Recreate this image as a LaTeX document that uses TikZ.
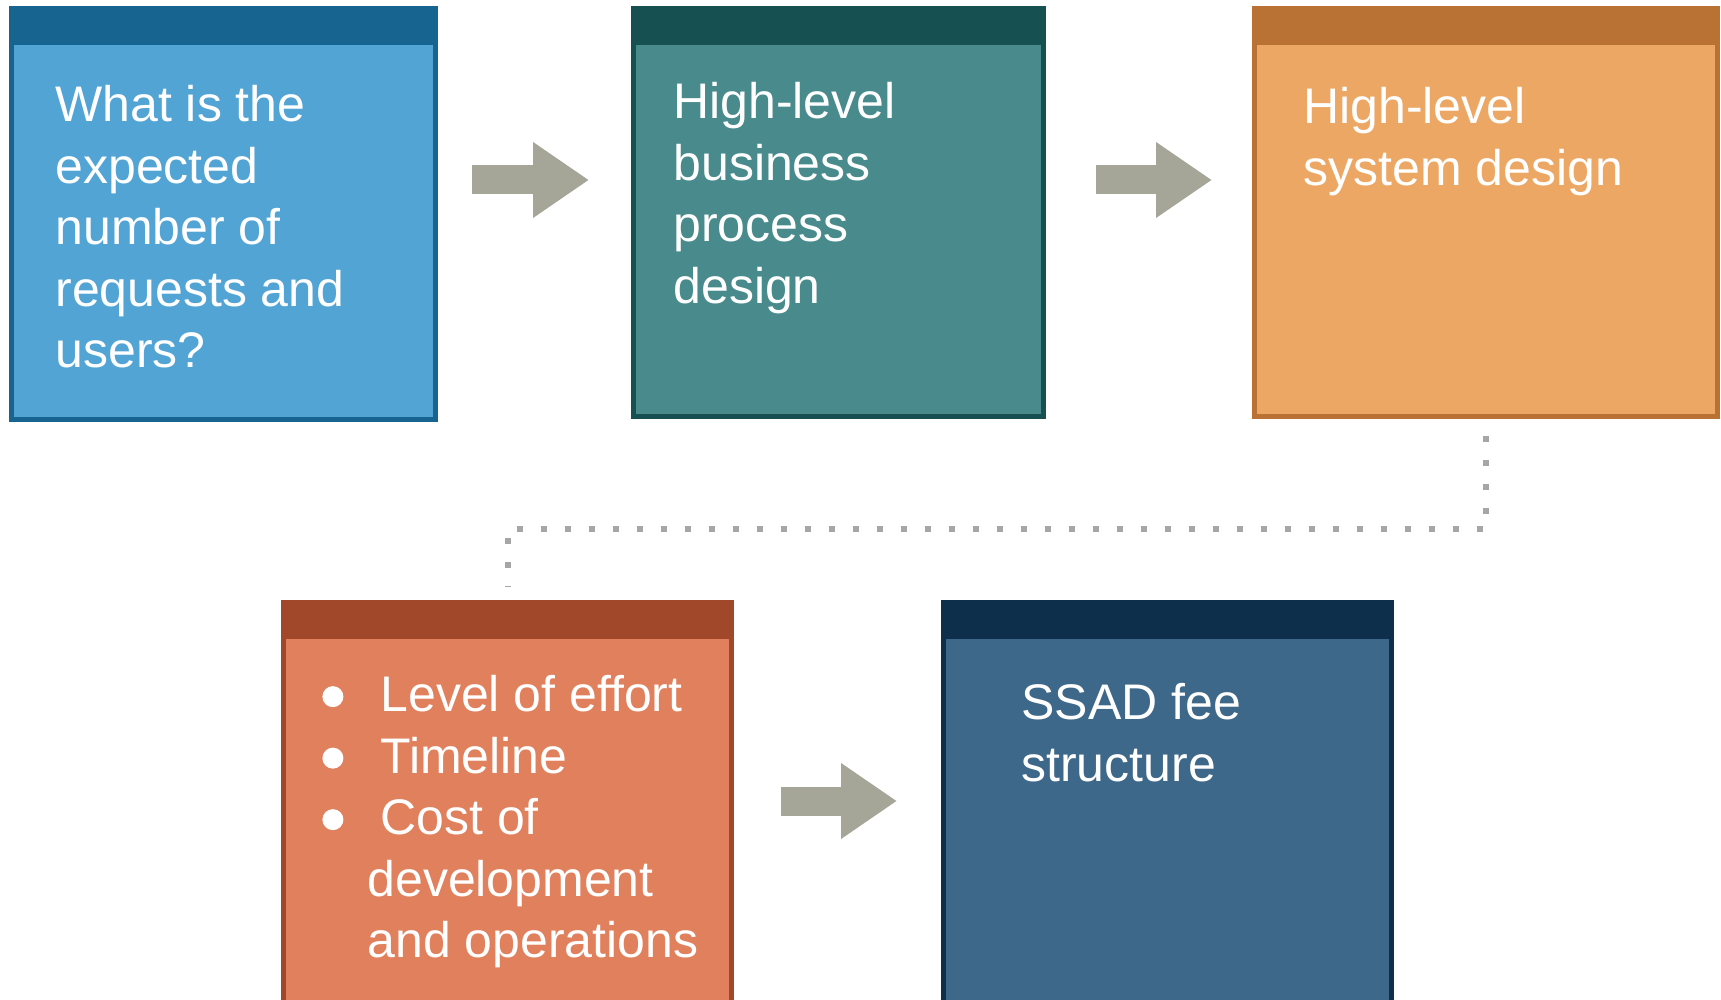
\documentclass[tikz,border=0pt]{standalone}
\usepackage{fontspec}
\setmainfont{Liberation Sans}
\usetikzlibrary{arrows.meta}

\definecolor{skyfill}{RGB}{82,164,213}
\definecolor{skyedge}{RGB}{23,100,145}
\definecolor{tealfill}{RGB}{73,139,141}
\definecolor{tealedge}{RGB}{22,80,81}
\definecolor{sandfill}{RGB}{237,167,100}
\definecolor{sandedge}{RGB}{185,114,52}
\definecolor{rustfill}{RGB}{224,128,92}
\definecolor{rustedge}{RGB}{161,71,42}
\definecolor{navyfill}{RGB}{62,104,137}
\definecolor{navyedge}{RGB}{13,47,75}
\definecolor{arrowgray}{RGB}{165,165,152}
\definecolor{dotgray}{RGB}{166,166,166}

\newcommand{\bulletdot}{\tikz[baseline=-7.5pt]\fill[white] (0,0) circle (5.25pt);}

\tikzset{
  card/.style 2 args={draw=#2, fill=#1, line width=2.5pt, inner sep=0pt,
    path picture={\fill[#2] (path picture bounding box.north west) rectangle ([yshift=-18.25pt]path picture bounding box.north east);}},
  cardtext/.style={anchor=north west, inner sep=0pt, align=left, text=white,
    font={\fontsize{25}{30.75}\selectfont}},
  flow/.style={arrowgray, line width=14.5pt, -{Triangle[length=28pt,width=36pt]}},
  dotline/.style={dotgray, line width=3pt, dash pattern=on 3pt off 9pt}
}

\begin{document}
\begin{tikzpicture}[x=0.5pt,y=-0.5pt]
\useasboundingbox (0,0) rectangle (1721,1000);
\clip (0,0) rectangle (1721,1000);
\node[card={skyfill}{skyedge}, minimum width=212pt, minimum height=205.5pt] (b1) at (223.5,214) {};
\node[card={tealfill}{tealedge}, minimum width=205pt, minimum height=204pt] (b2) at (838.5,212.5) {};
\node[card={sandfill}{sandedge}, minimum width=231.5pt, minimum height=204pt] (b3) at (1486,212.5) {};
\node[card={rustfill}{rustedge}, minimum width=224pt, minimum height=207.5pt] (b4) at (507.5,810) {};
\node[card={navyfill}{navyedge}, minimum width=224pt, minimum height=207.5pt] (b5) at (1167.5,810) {};
\node[cardtext] (t1) at (55,85) {What is the\\expected\\number of\\requests and\\users?};
\node[cardtext] (t2) at (673,82) {High-level\\business\\process\\design};
\node[cardtext] (t3) at (1303,87) {High-level\\system design};
\node[cardtext] (t4) at (322,675) {\makebox[29pt][l]{\bulletdot}Level of effort\\\makebox[29pt][l]{\bulletdot}Timeline\\\makebox[29pt][l]{\bulletdot}Cost of\\\hspace*{22.5pt}development\\\hspace*{22.5pt}and operations};
\node[cardtext] (t5) at (1021,683) {SSAD fee\\structure};
\coordinate (row1) at (0,180);
\coordinate (row2) at (0,801);
\draw[flow, shorten <=17pt, shorten >=21pt] (b1.east |- row1) -- (b2.west |- row1);
\draw[flow, shorten <=25pt, shorten >=20pt] (b2.east |- row1) -- (b3.west |- row1);
\draw[flow, shorten <=23.5pt, shorten >=22pt] (b4.east |- row2) -- (b5.west |- row2);
\draw[dotline, shorten <=8.75pt, shorten >=6.75pt] (b3.south) -- ++(0,110.5) -| (b4.north);
\end{tikzpicture}
\end{document}
